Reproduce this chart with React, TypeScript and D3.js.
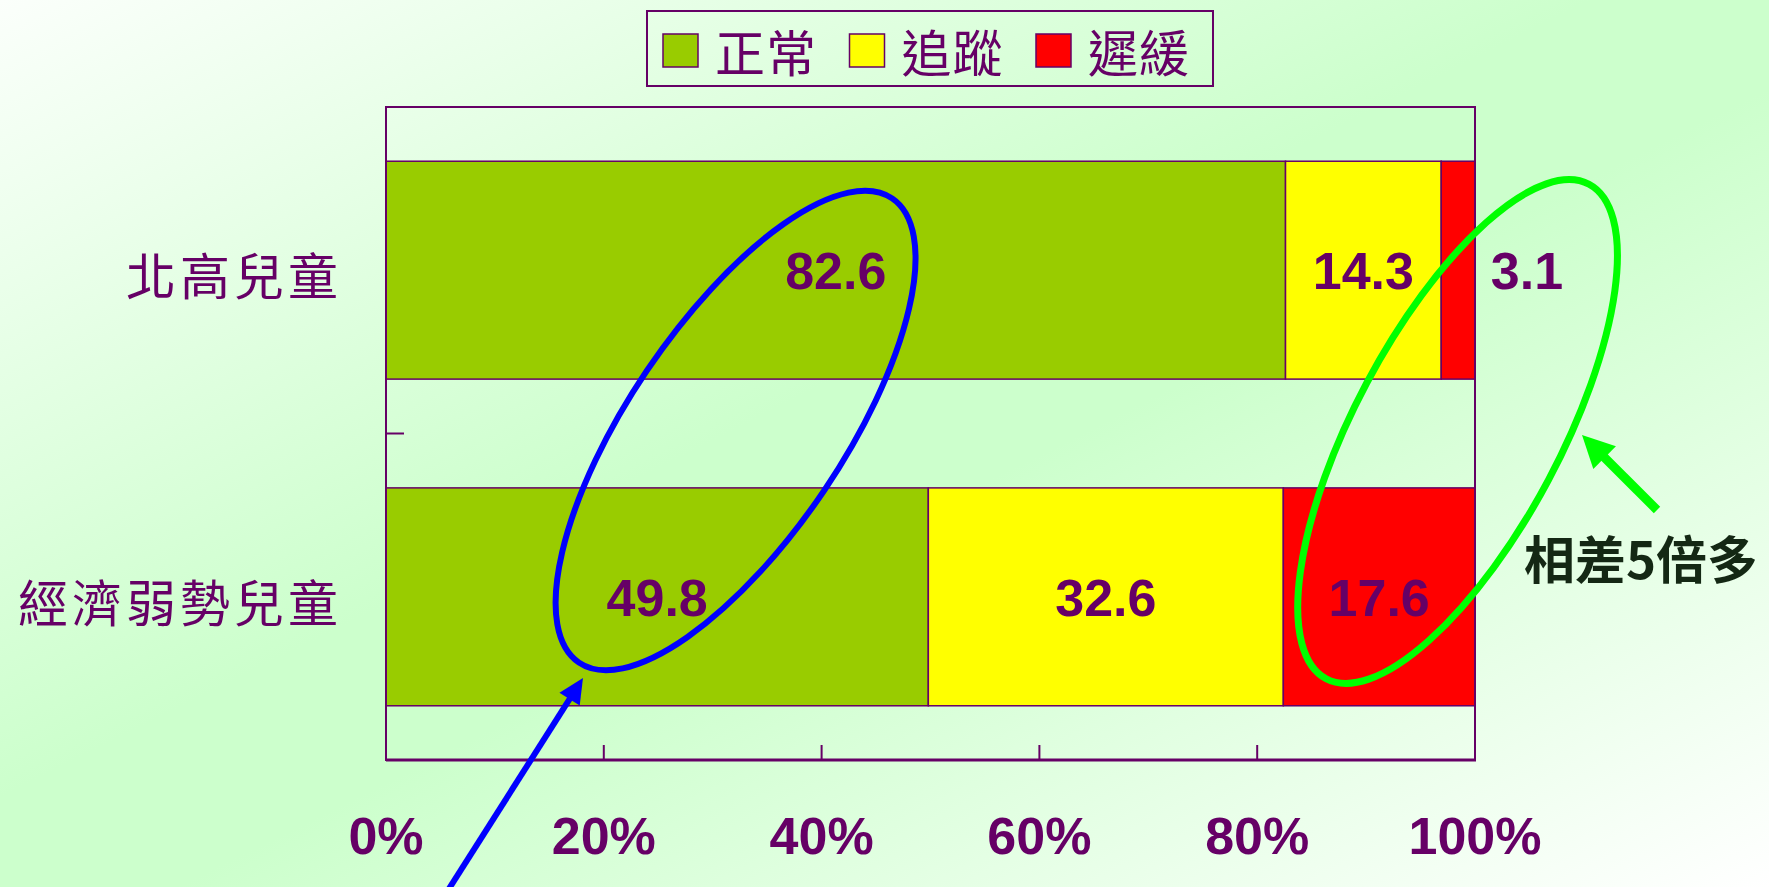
import React from 'react';
import * as d3 from 'd3';

const categories = ['北高兒童', '經濟弱勢兒童'];
const seriesNames = ['正常', '追蹤', '遲緩'];
const seriesColors = ['#99cc00', '#ffff00', '#ff0000'];
const normalValues = [82.6, 49.8];
const followValues = [14.3, 32.6];
const delayedValues = [3.1, 17.6];
const xTickValues = [0, 20, 40, 60, 80, 100];
const annotationText = '相差5倍多';

const W = 1769;
const H = 887;
const plot = { left: 386, right: 1475, top: 107, bottom: 760 };
const PURPLE = '#660066';

function arrow(x1: number, y1: number, x2: number, y2: number, headLen: number, headHalf: number) {
  const dx = x2 - x1, dy = y2 - y1;
  const len = Math.hypot(dx, dy);
  const ux = dx / len, uy = dy / len;
  const bx = x2 - ux * headLen, by = y2 - uy * headLen;
  const px = -uy, py = ux;
  const pts = [
    [x2, y2],
    [bx + px * headHalf, by + py * headHalf],
    [bx - px * headHalf, by - py * headHalf],
  ];
  return { lx2: bx + ux * 2, ly2: by + uy * 2, points: pts.map(p => p.join(',')).join(' ') };
}

export default function App() {
  const x = d3.scaleLinear().domain([0, 100]).range([plot.left, plot.right]);
  const y = d3
    .scaleBand<string>()
    .domain(categories)
    .range([plot.top, plot.bottom])
    .paddingInner(0.333)
    .paddingOuter(0.166);

  const table = categories.map((c, i) => ({
    category: c,
    正常: normalValues[i],
    追蹤: followValues[i],
    遲緩: delayedValues[i],
  }));
  const stacked = d3.stack<any>().keys(seriesNames)(table);

  const boundaryY = (y(categories[1]) as number) - (y.step() * y.paddingInner()) / 2;

  const greenArrow = arrow(1657, 510, 1582, 435, 32, 16);
  const blueArrow = arrow(445, 895, 583, 678, 25, 12);

  return (
    <svg
      width={W}
      height={H}
      viewBox={`0 0 ${W} ${H}`}
      style={{ position: 'absolute', left: 0, top: 0, display: 'block' }}
    >
      <defs>
        <linearGradient id="bg" x1="0" y1="0" x2="1" y2="1">
          <stop offset="0" stopColor="#fbfffb" />
          <stop offset="0.45" stopColor="#ccffcc" />
          <stop offset="0.55" stopColor="#ccffcc" />
          <stop offset="1" stopColor="#ffffff" />
        </linearGradient>
      </defs>
      <rect x={0} y={0} width={W} height={H} fill="url(#bg)" />

      {/* Legend */}
      <rect x={647} y={11} width={566} height={75} fill="none" stroke={PURPLE} strokeWidth={2} />
      {seriesNames.map((name, i) => {
        const sx = 663 + i * 186.5;
        return (
          <g key={name}>
            <rect x={sx} y={34} width={35} height={33} fill={seriesColors[i]} stroke={PURPLE} strokeWidth={1.5} />
            <text
              x={sx + 52}
              y={72}
              fontFamily="'Noto Sans CJK TC', sans-serif"
              fontSize={50}
              fontWeight={400}
              letterSpacing={1}
              fill={PURPLE}
            >
              {name}
            </text>
          </g>
        );
      })}

      {/* Bars */}
      {stacked.map((series, si) => (
        <g key={series.key}>
          {series.map((d: any, ci: number) => (
            <rect
              key={ci}
              x={x(d[0])}
              y={y(categories[ci])}
              width={x(d[1]) - x(d[0])}
              height={y.bandwidth()}
              fill={seriesColors[si]}
              stroke={PURPLE}
              strokeWidth={1.5}
            />
          ))}
        </g>
      ))}

      {/* Plot frame */}
      <rect
        x={plot.left}
        y={plot.top}
        width={plot.right - plot.left}
        height={plot.bottom - plot.top}
        fill="none"
        stroke={PURPLE}
        strokeWidth={2}
      />
      <line x1={plot.left} x2={plot.right + 1} y1={plot.bottom} y2={plot.bottom} stroke={PURPLE} strokeWidth={3} />
      {/* category boundary tick */}
      <line x1={plot.left} x2={plot.left + 18} y1={boundaryY} y2={boundaryY} stroke={PURPLE} strokeWidth={2} />
      {/* x ticks */}
      {xTickValues.map(t => (
        <line key={t} x1={x(t)} x2={x(t)} y1={plot.bottom} y2={plot.bottom - 15} stroke={PURPLE} strokeWidth={2} />
      ))}
      {xTickValues.map(t => (
        <text
          key={'l' + t}
          x={x(t)}
          y={854}
          textAnchor="middle"
          fontFamily="'Liberation Sans', Arial, sans-serif"
          fontWeight="bold"
          fontSize={52}
          fill={PURPLE}
        >
          {t}%
        </text>
      ))}

      {/* Category labels */}
      {categories.map((c, i) => (
        <text
          key={c}
          x={342}
          y={(y(c) as number) + y.bandwidth() / 2 + 25}
          textAnchor="end"
          fontFamily="'Noto Sans CJK TC', sans-serif"
          fontSize={50}
          fontWeight={400}
          letterSpacing={4}
          fill={PURPLE}
        >
          {c}
        </text>
      ))}

      {/* Data labels */}
      {stacked.map(series =>
        series.map((d: any, ci: number) => {
          const w = x(d[1]) - x(d[0]);
          const cx = w < 60 ? x(100) + 52 : (x(d[0]) + x(d[1])) / 2;
          const cy = (y(categories[ci]) as number) + y.bandwidth() / 2;
          return (
            <text
              key={series.key + ci}
              x={cx}
              y={cy + 19}
              textAnchor="middle"
              fontFamily="'Liberation Sans', Arial, sans-serif"
              fontWeight="bold"
              fontSize={52}
              fill={PURPLE}
            >
              {(d[1] - d[0]).toFixed(1)}
            </text>
          );
        })
      )}

      {/* Annotations */}
      <ellipse
        cx={x(32.1)}
        cy={boundaryY - 3}
        rx={280}
        ry={107}
        transform={`rotate(-56 ${x(32.1)} ${boundaryY - 3})`}
        fill="none"
        stroke="#0000ff"
        strokeWidth={6}
      />
      <ellipse
        cx={x(98.4)}
        cy={boundaryY - 2}
        rx={280}
        ry={103}
        transform={`rotate(-62 ${x(98.4)} ${boundaryY - 2})`}
        fill="none"
        stroke="#00ff00"
        strokeWidth={7}
      />
      <line x1={1657} y1={510} x2={greenArrow.lx2} y2={greenArrow.ly2} stroke="#00ff00" strokeWidth={9} />
      <polygon points={greenArrow.points} fill="#00ff00" />
      <line x1={445} y1={895} x2={blueArrow.lx2} y2={blueArrow.ly2} stroke="#0000ff" strokeWidth={6} />
      <polygon points={blueArrow.points} fill="#0000ff" />
      <text
        x={1524}
        y={579}
        fontFamily="'Noto Sans CJK TC', sans-serif"
        fontWeight="bold"
        fontSize={51}
        fill="#142814"
      >
        {annotationText}
      </text>
    </svg>
  );
}
